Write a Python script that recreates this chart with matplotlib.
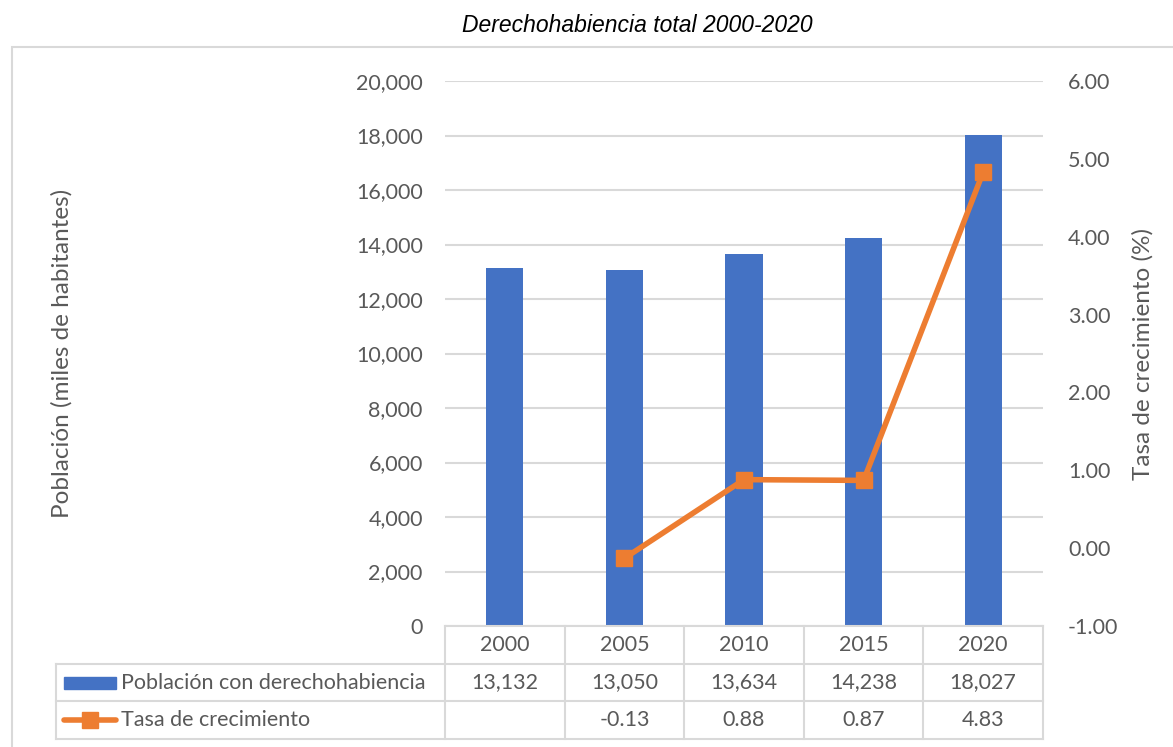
import matplotlib
matplotlib.use("Agg")
import matplotlib.pyplot as plt
import numpy as np
from matplotlib.patches import Rectangle
from matplotlib.lines import Line2D
from matplotlib.transforms import blended_transform_factory
from matplotlib.ticker import FuncFormatter, MultipleLocator

years = ["2000", "2005", "2010", "2015", "2020"]
poblacion = [13132, 13050, 13634, 14238, 18027]
tasa = [np.nan, -0.13, 0.88, 0.87, 4.83]
tasa_labels = ["", "-0.13", "0.88", "0.87", "4.83"]
serie_barras = "Población con derechohabiencia"
serie_linea = "Tasa de crecimiento"
titulo = "Derechohabiencia total 2000-2020"
ylabel_izq = "Población (miles de habitantes)"
ylabel_der = "Tasa de crecimiento (%)"

BLUE = "#4472C4"
ORANGE = "#ED7D31"
GRID = "#D9D9D9"
TXT = "#595959"
FONT = ["Lato", "DejaVu Sans"]
plt.rcParams["font.family"] = FONT

W, H = 1173, 747
fig = plt.figure(figsize=(W / 100, H / 100), dpi=100)

def fx(px):
    return px / W

def fy(py):
    return 1 - py / H

# outer chart border
fig.add_artist(Rectangle((fx(12), fy(1000)), fx(1300), (1000 - 47) / H,
                         transform=fig.transFigure, fill=False,
                         edgecolor=GRID, linewidth=1.5))

fig.text(fx(637), fy(26), titulo, ha="center", va="center", fontsize=16.5,
         style="italic", family=["Liberation Sans", "DejaVu Sans"], color="black")

left, right, top, bottom = 445, 1043, 81, 626
ax = fig.add_axes([fx(left), fy(bottom), fx(right - left), (bottom - top) / H])
x = np.arange(len(years))
ax.bar(x, poblacion, width=0.31, color=BLUE, zorder=2)
ax.set_xlim(-0.5, len(years) - 0.5)
ax.set_ylim(0, 20000)
ax.yaxis.set_major_locator(MultipleLocator(2000))
ax.yaxis.set_major_formatter(FuncFormatter(lambda v, p: f"{v:,.0f}"))
ax.grid(axis="y", color=GRID, linewidth=1.5, zorder=0)
ax.set_axisbelow(True)
for s in ax.spines.values():
    s.set_visible(False)
ax.set_xticks([])
ax.tick_params(axis="y", length=0, labelsize=15.5, labelcolor=TXT, pad=16)
ax.set_ylabel(ylabel_izq, fontsize=17.5, color=TXT, labelpad=0)
ax.yaxis.set_label_coords((73 - left) / (right - left), 0.5)

ax2 = ax.twinx()
ax2.plot(x, tasa, color=ORANGE, linewidth=4, marker="s", markersize=11,
         zorder=3, solid_joinstyle="round")
ax2.set_ylim(-1, 6)
ax2.yaxis.set_major_locator(MultipleLocator(1))
ax2.yaxis.set_major_formatter(FuncFormatter(lambda v, p: f"{v:.2f}"))
for s in ax2.spines.values():
    s.set_visible(False)
ax2.tick_params(axis="y", length=0, labelsize=15.5, labelcolor=TXT, pad=18)
ax2.set_ylabel(ylabel_der, fontsize=17.5, color=TXT, rotation=90)
ax2.yaxis.set_label_coords((1132 - left) / (right - left), 0.5)

# data table
tr = blended_transform_factory(ax.transData, ax.transAxes)
rowh = 37.7 / (bottom - top)
cat_w = 120.0
left_edge = -0.5 - (left - 55) / cat_w
lkw = dict(color=GRID, linewidth=1.5, transform=tr, clip_on=False)
# horizontal lines
ax.add_line(Line2D([-0.5, 4.5], [0, 0], **lkw))
for r in (1, 2, 3):
    ax.add_line(Line2D([left_edge, 4.5], [-r * rowh, -r * rowh], **lkw))
# vertical lines
for i in range(len(years) + 1):
    ax.add_line(Line2D([i - 0.5, i - 0.5], [0, -3 * rowh], **lkw))
ax.add_line(Line2D([left_edge, left_edge], [-rowh, -3 * rowh], **lkw))

tkw = dict(transform=tr, ha="center", va="center", fontsize=15.5, color=TXT, clip_on=False)
for i, yr in enumerate(years):
    ax.text(i, -0.5 * rowh, yr, **tkw)
    ax.text(i, -1.5 * rowh, f"{poblacion[i]:,}", **tkw)
    ax.text(i, -2.5 * rowh, tasa_labels[i], **tkw)

# legend keys
k0 = -0.5 - (left - 63) / cat_w
k1 = -0.5 - (left - 115) / cat_w
hh = 12 / (bottom - top)
ax.add_patch(Rectangle((k0, -1.5 * rowh - hh / 2), k1 - k0, hh, transform=tr,
                       color=BLUE, clip_on=False))
ax.add_line(Line2D([k0, k1], [-2.5 * rowh, -2.5 * rowh], color=ORANGE, linewidth=4,
                   transform=tr, clip_on=False, solid_capstyle="round"))
ax.add_line(Line2D([(k0 + k1) / 2], [-2.5 * rowh], color=ORANGE, marker="s",
                   markersize=11, transform=tr, clip_on=False))
tx = -0.5 - (left - 120) / cat_w
ax.text(tx, -1.5 * rowh, serie_barras, transform=tr, ha="left", va="center",
        fontsize=15.5, color=TXT, clip_on=False)
ax.text(tx, -2.5 * rowh, serie_linea, transform=tr, ha="left", va="center",
        fontsize=15.5, color=TXT, clip_on=False)

fig.savefig("out.png", dpi=100)
